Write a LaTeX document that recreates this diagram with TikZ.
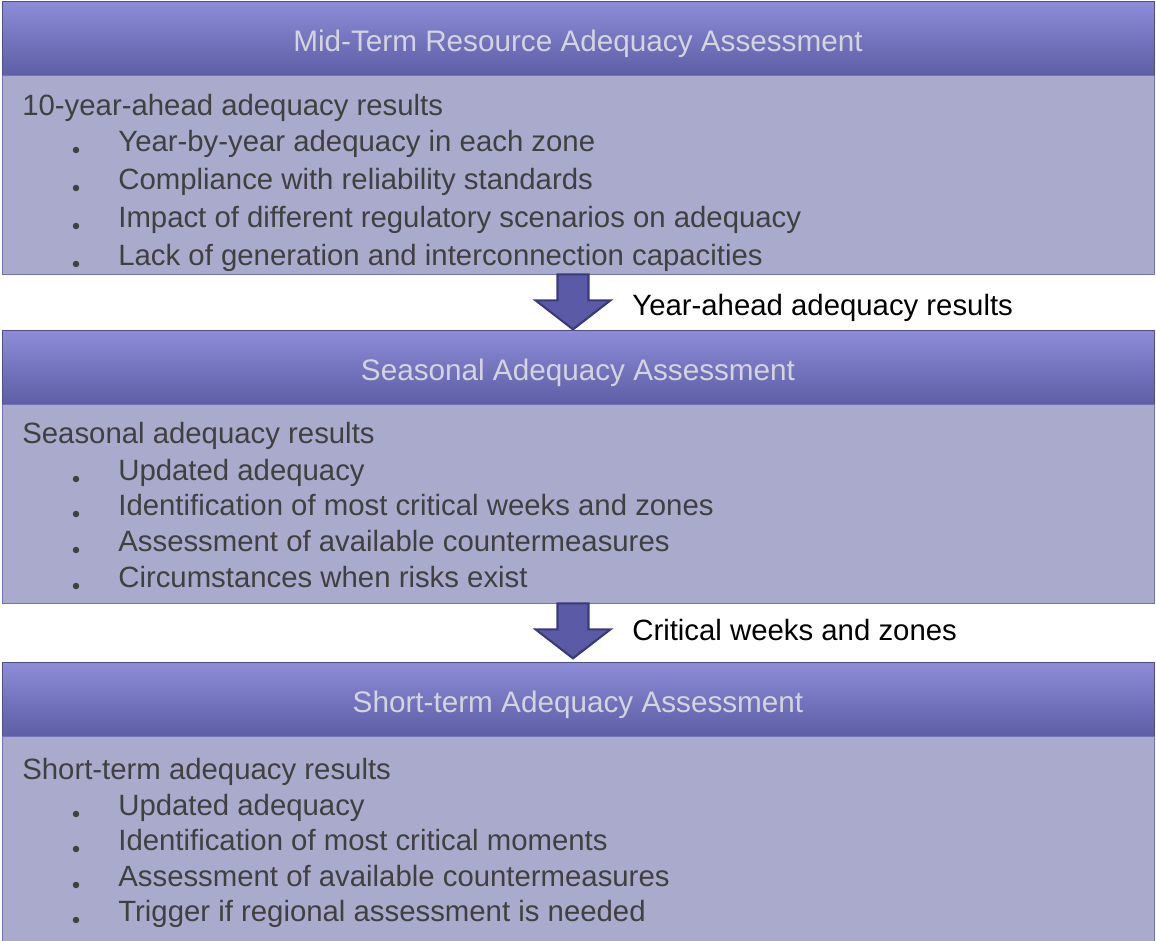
\documentclass[tikz,border=0pt]{standalone}
\usepackage{fontspec}
\setmainfont{Liberation Sans}
\usetikzlibrary{positioning}
\definecolor{hdrtop}{HTML}{8C8CD8}
\definecolor{hdrmid}{HTML}{7070BE}
\definecolor{hdrbot}{HTML}{5E5EA6}
\definecolor{hdrline}{HTML}{4E4E8A}
\definecolor{hdrtext}{HTML}{D4D4DE}
\definecolor{bodyfill}{HTML}{AAAACD}
\definecolor{bodyline}{HTML}{7272B6}
\definecolor{txtgrey}{HTML}{404040}
\definecolor{arrowfill}{HTML}{5A5AA6}
\definecolor{arrowline}{HTML}{3A3A7A}
\newcommand{\txtfont}{\fontsize{16.7}{19}\selectfont}
\newcommand{\hdrfont}{\fontsize{16.9}{19}\selectfont}
\tikzset{%
	header/.style={
		rectangle,
		draw=hdrline,
		top color=hdrtop,
		middle color=hdrmid,
		bottom color=hdrbot,
		minimum width=23.04cm,
		minimum height=1.48cm,
		text height=0.52cm,
		text depth=0pt,
		text=hdrtext,
		font=\hdrfont
	},
	body/.style={
		rectangle,
		draw=bodyline,
		fill=bodyfill,
		minimum width=23.04cm,
		minimum height=3.98cm
	},
	title/.style={anchor=base west, inner sep=0pt, text=txtgrey, font=\txtfont},
	item/.style={title},
	bullet/.style={circle, fill=txtgrey, inner sep=0pt, minimum size=0.13cm},
	flowlabel/.style={anchor=base west, inner sep=0pt, text=black, font=\txtfont},
	downarrow/.pic={
		\draw[fill=arrowfill, draw=arrowline, line width=1.2pt, line join=miter]
			(-15.5,0) -- (15.5,0) -- (15.5,26) -- (37.5,26) -- (0,55)
			-- (-37.5,26) -- (-15.5,26) -- cycle;
	},
}
\begin{document}
\begin{tikzpicture}[x=0.02cm, y=-0.02cm]
	\useasboundingbox (0,0) rectangle (1156,940);
	% mid-term block
	\node[header] (hdr1) at (578,38.5) {Mid-Term Resource Adequacy Assessment};
	\node[body] (body1) at (578,174.5) {};
	\node[title] (tit1) at (22,115) {10-year-ahead adequacy results};
	\foreach \txt/\yy [count=\i] in {
			Year-by-year adequacy in each zone/151,
			Compliance with reliability standards/189,
			Impact of different regulatory scenarios on adequacy/227,
			Lack of generation and interconnection capacities/265} {
		\node[bullet] (ba\i) at (76,\yy-1) {};
		\node[item] (ia\i) at (118,\yy) {\txt};
	}
	% seasonal block
	\pic (arr1) at (body1.south -| 573,0) {downarrow};
	\node[flowlabel] (lab1) at (632,315) {Year-ahead adequacy results};
	\node[header] (hdr2) at (578,367.5) {Seasonal Adequacy Assessment};
	\node[body] (body2) at (578,503.5) {};
	\node[title] (tit2) at (22,443) {Seasonal adequacy results};
	\foreach \txt/\yy [count=\i] in {
			Updated adequacy/480,
			Identification of most critical weeks and zones/515,
			Assessment of available countermeasures/551,
			Circumstances when risks exist/587} {
		\node[bullet] (bb\i) at (76,\yy-1) {};
		\node[item] (ib\i) at (118,\yy) {\txt};
	}
	% short-term block
	\pic (arr2) at (body2.south -| 573,0) {downarrow};
	\node[flowlabel] (lab2) at (632,640) {Critical weeks and zones};
	\node[header] (hdr3) at (578,699) {Short-term Adequacy Assessment};
	\node[body, minimum height=4.1cm] (body3) at (578,839) {};
	\node[title] (tit3) at (22,779) {Short-term adequacy results};
	\foreach \txt/\yy [count=\i] in {
			Updated adequacy/815,
			Identification of most critical moments/850,
			Assessment of available countermeasures/886,
			Trigger if regional assessment is needed/921} {
		\node[bullet] (bc\i) at (76,\yy-1) {};
		\node[item] (ic\i) at (118,\yy) {\txt};
	}
\end{tikzpicture}
\end{document}
